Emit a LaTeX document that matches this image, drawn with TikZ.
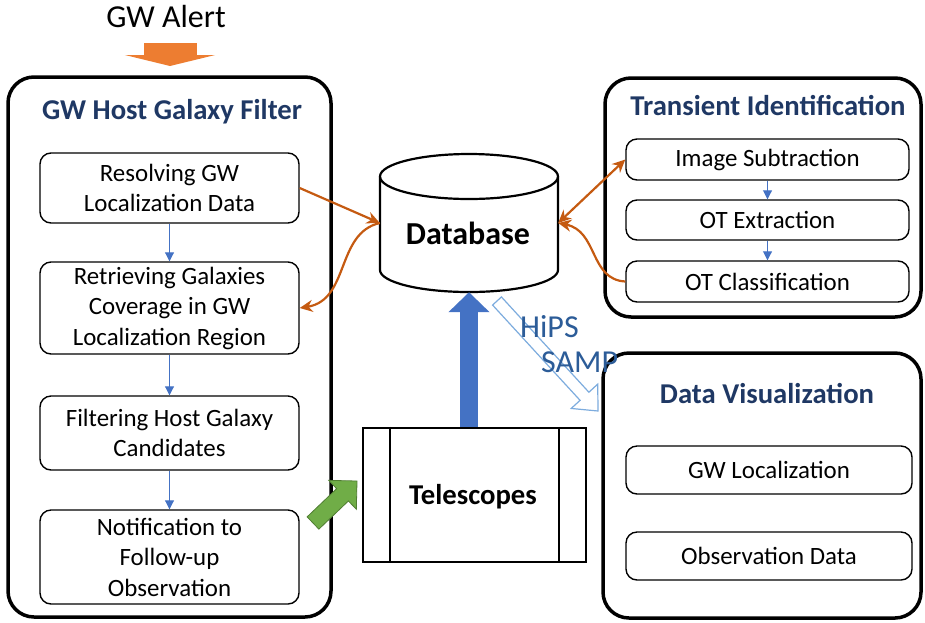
\documentclass[tikz,border=0pt]{standalone}
\usepackage{fontspec}
\setmainfont{Carlito}
\usetikzlibrary{arrows.meta,calc}
\definecolor{titleblue}{RGB}{31,56,100}
\definecolor{flowblue}{RGB}{68,114,196}
\definecolor{linkorange}{RGB}{197,90,17}
\definecolor{alertorange}{RGB}{237,125,49}
\definecolor{greenfill}{RGB}{112,173,71}
\definecolor{greenedge}{RGB}{80,126,50}
\definecolor{hollowblue}{RGB}{125,172,222}
\definecolor{protoblue}{RGB}{44,92,152}
\newcommand\myboxfont{\fontsize{24.9}{30.5}\selectfont}
\newcommand\mytitlefont{\fontsize{28.7}{34}\selectfont\bfseries}
\begin{document}
\begin{tikzpicture}[x=1pt,y=-1pt,
  panel/.style={draw, line width=3.5pt, rounded corners=26pt, inner sep=0},
  inbox/.style={draw, line width=1.4pt, rounded corners=11pt, align=center, font=\myboxfont, inner sep=0},
  ptitle/.style={font=\mytitlefont, text=titleblue, anchor=base},
  flow/.style={draw=flowblue, line width=0.9pt, -{Triangle[length=9pt,width=9pt]}},
  linkhead/.tip={Stealth[length=13pt,width=12pt]},
  link/.style={draw=linkorange, line width=2.2pt, -linkhead},
  bigtext/.style={font=\fontsize{32}{38}\selectfont\bfseries, anchor=base}
]
\useasboundingbox (0,0) rectangle (925,622);

% GW alert
\node[font=\fontsize{32}{38}\selectfont, anchor=base] (alert) at (166,27) {GW Alert};
\coordinate (alertTail) at (170,43);
\coordinate (alertTip) at (170,66);
\draw[line width=53pt, draw=alertorange, -{Triangle[length=11pt,width=90pt]}] (alertTail) -- (alertTip);

% panels
\node[panel, minimum width=323pt, minimum height=540pt] (lp) at (169.5,347) {};
\node[panel, minimum width=316pt, minimum height=239pt] (tp) at (763,197.5) {};
\node[panel, minimum width=318pt, minimum height=265pt] (dv) at (762,485.5) {};

\node[ptitle] (lpt) at (172,119) {GW Host Galaxy Filter};
\node[ptitle] (tpt) at (768,115) {Transient Identification};
\node[ptitle] (dvt) at (767,403) {Data Visualization};

% left boxes
\node[inbox, minimum width=259pt, minimum height=70pt] (box1) at (169.5,188) {Resolving GW\\Localization Data};
\node[inbox, minimum width=259pt, minimum height=92pt] (box2) at (169.5,308) {Retrieving Galaxies\\Coverage in GW\\Localization Region};
\node[inbox, minimum width=259pt, minimum height=74pt] (box3) at (169.5,433) {Filtering Host Galaxy\\Candidates};
\node[inbox, minimum width=259pt, minimum height=94pt] (box4) at (169.5,557) {Notification to\\Follow-up\\Observation};
\draw[flow] (box1.south) -- (box2.north);
\draw[flow] (box2.south) -- (box3.north);
\draw[flow] (box3.south) -- (box4.north);

% right boxes
\node[inbox, minimum width=283pt, minimum height=41pt] (is) at (767.5,159.5) {Image Subtraction};
\node[inbox, minimum width=283pt, minimum height=40pt] (ote) at (767.5,220) {OT Extraction};
\node[inbox, minimum width=283pt, minimum height=41pt] (otc) at (767.5,281.5) {OT Classification};
\draw[flow] (is.south) -- (ote.north);
\draw[flow] (ote.south) -- (otc.north);

\node[inbox, minimum width=286pt, minimum height=48pt] (gwl) at (769,470) {GW Localization};
\node[inbox, minimum width=286pt, minimum height=48pt] (obs) at (769,556) {Observation Data};

% database
\node[minimum width=178pt, minimum height=138pt, inner sep=0] (db) at (469,223) {};
\draw[line width=2.2pt, fill=white] (469,176.5) ellipse [x radius=89pt, y radius=22.5pt];
\draw[line width=2.2pt] (380,176.5) -- (380,270) arc[start angle=180, end angle=360, x radius=89pt, y radius=22pt] -- (558,176.5);
\node[bigtext] (dbtext) at (468,244) {Database};

% telescopes
\node[draw, line width=2.2pt, minimum width=223pt, minimum height=134pt, inner sep=0] (tel) at (474.5,495) {};
\draw[line width=2.2pt] ($(tel.north west)+(28,0)$) -- ($(tel.south west)+(28,0)$);
\draw[line width=2.2pt] ($(tel.north east)+(-28,0)$) -- ($(tel.south east)+(-28,0)$);
\node[font=\fontsize{28.7}{34}\selectfont\bfseries, anchor=base] (teltext) at (473,504) {Telescopes};

% big blue arrow
\draw[line width=18pt, draw=flowblue, -{Triangle[length=20pt,width=40pt]}] (db.south |- tel.north) -- (db.south);

% orange links
\draw[link] (box1.east) -- (db.west);
\draw[link] (db.west) .. controls +(-44,10) and +(50,-8) .. (box2.east);
\draw[link, linkhead-linkhead] (db.east) -- (is.west);
\draw[link] (otc.west) .. controls +(-36,-2) and +(40,8) .. (db.east);

% green arrow
\coordinate (gT) at (313,523);
\coordinate (gP) at (357,481);
\coordinate (gB) at ($(gP)!20pt!(gT)$);
\filldraw[fill=greenfill, draw=greenedge, line width=0.8pt, line join=miter]
  ($(gT)!8.5pt!90:(gP)$) -- ($(gB)!8.5pt!-90:(gT)$) -- ($(gB)!20pt!-90:(gT)$) -- (gP)
  -- ($(gB)!20pt!90:(gT)$) -- ($(gB)!8.5pt!90:(gT)$) -- ($(gT)!8.5pt!-90:(gP)$) -- cycle;

% hollow arrow HiPS / SAMP
\coordinate (hT) at (497,301);
\coordinate (hP) at (598,411);
\coordinate (hB) at ($(hP)!20pt!(hT)$);
\filldraw[fill=white, draw=hollowblue, line width=1.2pt, line join=miter]
  ($(hT)!6pt!90:(hP)$) -- ($(hB)!6pt!-90:(hT)$) -- ($(hB)!18pt!-90:(hT)$) -- (hP)
  -- ($(hB)!18pt!90:(hT)$) -- ($(hB)!6pt!90:(hT)$) -- ($(hT)!6pt!-90:(hP)$) -- cycle;
\node[font=\fontsize{32}{38}\selectfont, text=protoblue, anchor=base west, inner sep=0] (hips) at (520,337) {HiPS};
\node[font=\fontsize{32}{38}\selectfont, text=protoblue, anchor=base west, inner sep=0] (samp) at (541,372) {SAMP};
\end{tikzpicture}
\end{document}
